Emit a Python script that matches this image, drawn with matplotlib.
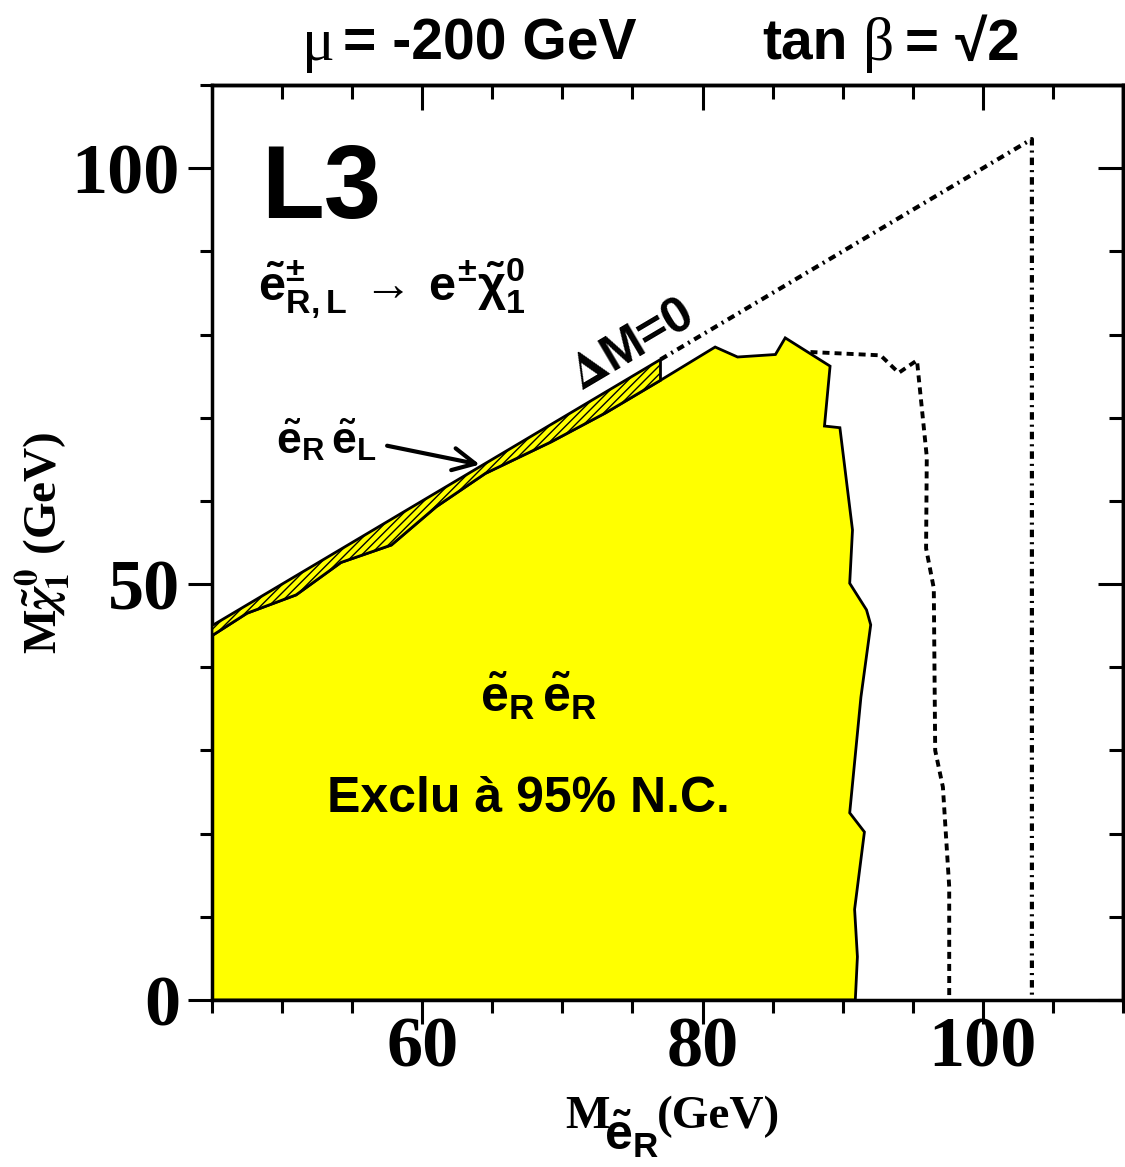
import numpy as np
import matplotlib.pyplot as plt
from matplotlib.ticker import MultipleLocator, NullFormatter

plt.rcParams['font.family'] = ['Liberation Serif', 'DejaVu Serif']
plt.rcParams['font.weight'] = 'bold'
plt.rcParams['mathtext.fontset'] = 'custom'
plt.rcParams['mathtext.rm'] = 'Liberation Sans:bold'
plt.rcParams['mathtext.it'] = 'Liberation Sans:bold'
plt.rcParams['mathtext.bf'] = 'Liberation Sans:bold'
plt.rcParams['hatch.linewidth'] = 1.0

# contour exclu e~R e~R (observe), M_eR vs M_chi
excl_x = [45.0, 47.5, 51.0, 54.2, 57.8, 61.0, 64.5, 69.2, 73.1, 77.0,
          80.9, 82.5, 85.2, 85.9, 89.1, 88.7, 89.8, 90.7, 90.5, 91.7,
          92.0, 91.3, 90.5, 91.55, 90.85, 91.05, 90.9]
excl_y = [43.8, 46.5, 48.7, 52.6, 54.7, 59.3, 63.3, 67.1, 70.6, 74.5,
          78.5, 77.3, 77.6, 79.6, 76.2, 69.0, 68.8, 56.5, 50.1, 46.9,
          45.1, 36.4, 22.5, 20.2, 10.9, 5.2, 0.0]

# bande e~R e~L (hachuree) entre le contour et dM=0
band_x = excl_x[:10]
band_lo = excl_y[:10]
band_hi = band_x

# limite attendue (tirets)
exp_x = [87.7, 92.7, 94.0, 95.3, 96.0, 95.95, 96.5, 96.6, 97.15, 97.6, 97.6]
exp_y = [77.9, 77.5, 75.4, 76.9, 65.3, 54.3, 49.5, 30.0, 25.6, 13.6, 0.0]

# limite cinematique dM=0 et sqrt(s)/2
kin_x = [77.0, 103.5, 103.5]
kin_y = [77.0, 103.5, 0.0]

W, H = 1125, 1167
fig = plt.figure(figsize=(W / 100, H / 100), dpi=100)
ax = fig.add_axes([212 / W, 1 - 1000 / H, (1123 - 212) / W, (1000 - 85) / H])

ax.fill(np.r_[45.0, excl_x], np.r_[0.0, excl_y], facecolor='#ffff00',
        edgecolor='black', lw=2.0, zorder=2)
ax.fill(np.r_[band_x, band_x[::-1]], np.r_[band_hi, band_lo[::-1]],
        facecolor='#ffff00', edgecolor='black', hatch='////', lw=2.0, zorder=3)
# dashes en unites de largeur de trait
ax.plot(exp_x, exp_y, color='black', lw=2.8, dashes=(1.8, 1.3), zorder=2)
ax.plot(kin_x, kin_y, color='black', lw=3.0, dashes=(1.8, 1.2, 0.5, 1.2), zorder=2)

ax.set_xlim(45, 110)
ax.set_ylim(0, 110)
ax.xaxis.set_major_locator(MultipleLocator(20))
ax.xaxis.set_minor_locator(MultipleLocator(5))
ax.yaxis.set_major_locator(MultipleLocator(50))
ax.yaxis.set_minor_locator(MultipleLocator(10))
ax.tick_params(which='both', direction='out', width=2.2, top=False, right=False)
ax.tick_params(which='major', length=17, labelsize=52)
ax.tick_params(which='minor', length=9)
ax.tick_params(axis='x', which='major', pad=-5)
ax.tick_params(axis='y', which='major', pad=6)
for s in ax.spines.values():
    s.set_linewidth(2.5)

top = ax.secondary_xaxis('top')
top.xaxis.set_major_locator(MultipleLocator(20))
top.xaxis.set_minor_locator(MultipleLocator(5))
top.xaxis.set_major_formatter(NullFormatter())
right = ax.secondary_yaxis('right')
right.yaxis.set_major_locator(MultipleLocator(50))
right.yaxis.set_minor_locator(MultipleLocator(10))
right.yaxis.set_major_formatter(NullFormatter())
for sec in (top, right):
    sec.tick_params(which='both', direction='in', width=2.2)
    sec.tick_params(which='major', length=18)
    sec.tick_params(which='minor', length=10)
    for s in sec.spines.values():
        s.set_linewidth(2.5)

sans = 'Liberation Sans'
ax.text(48.5, 94.0, 'L3', family=sans, weight='bold', size=74, va='baseline')
ax.text(48.3, 84.1, r'$\tilde{e}^{\pm}_{R,L}\,\rightarrow\,e^{\pm}\tilde{\chi}^0_1$',
        size=35, va='baseline')
ax.text(49.6, 65.7, r'$\tilde{e}_R\,\tilde{e}_L$', size=32, va='baseline')
ax.annotate('', xy=(64.3, 64.3), xytext=(57.3, 66.7),
            arrowprops=dict(arrowstyle='->', lw=3, mutation_scale=40, color='black'))
ax.text(75.0, 78.7, r'$\Delta$M=0', family=sans, weight='bold', size=36,
        math_fontfamily='stix', rotation=30.6, rotation_mode='anchor',
        ha='center', va='center')
ax.text(68.3, 34.6, r'$\tilde{e}_R\,\tilde{e}_R$', size=36, ha='center', va='baseline')
ax.text(67.6, 22.6, 'Exclu à 95% N.C.', family=sans, weight='bold', size=36,
        ha='center', va='baseline')

# titre
yb = 1 - 60 / H
fig.text(318 / W, yb, 'μ', family='Liberation Serif', weight='normal', size=44,
         ha='center', va='baseline')
fig.text(343 / W, yb, '= -200 GeV', family=sans, weight='bold', size=41, va='baseline')
fig.text(762 / W, yb, 'tan', family=sans, weight='bold', size=41, va='baseline')
fig.text(879 / W, yb, 'β', family='Liberation Serif', weight='normal', size=44,
         ha='center', va='baseline')
fig.text(905 / W, yb, '= √2', family=sans, weight='bold', size=42, va='baseline')

# titres des axes
ax.set_ylabel(r'M$\tilde{\chi}^{\,0}_1$ (GeV)', size=34, weight='bold',
              math_fontfamily='stix')
ax.yaxis.set_label_coords(-0.153, 0.5)
fig.text(565 / W, 1 - 1128 / H, 'M', size=34, va='baseline')
fig.text(604 / W, 1 - 1150 / H, r'$\tilde{e}_R$', size=36, va='baseline')
fig.text(657 / W, 1 - 1128 / H, '(GeV)', size=34, va='baseline')

plt.savefig('out.png', dpi=100)
